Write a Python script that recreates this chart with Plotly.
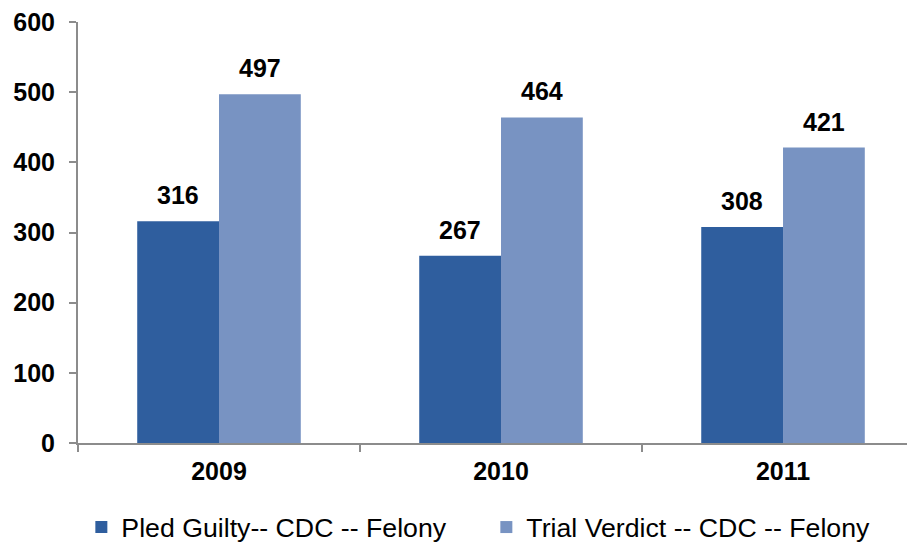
"""CDC felony dispositions by year."""
import plotly.graph_objects as go

years = ["2009", "2010", "2011"]
pled_guilty = [316, 267, 308]
trial_verdict = [497, 464, 421]
y_ticks = [0, 100, 200, 300, 400, 500, 600]

BOLD = dict(size=25, color='#000000', family='Liberation Sans', weight='bold')

fig = go.Figure()
fig.add_trace(go.Bar(x=years, y=pled_guilty, name="Pled Guilty-- CDC -- Felony",
    marker_color='#2F5E9E', marker_line_width=0))
fig.add_trace(go.Bar(x=years, y=trial_verdict, name="Trial Verdict -- CDC -- Felony",
    marker_color='#7893C2', marker_line_width=0))

# value labels sit above each bar, offset to the bar's half of the group
for vals, shift in [(pled_guilty, -41), (trial_verdict, 41)]:
    for i, v in enumerate(vals):
        fig.add_annotation(x=i, y=v, xref='x', yref='y', text=str(v), showarrow=False,
            xshift=shift, yanchor='bottom', yshift=10, font=BOLD)

# page body has an 8px margin, so the figure is sized to fit the window
fig.update_layout(
    width=907, height=536, paper_bgcolor='white', plot_bgcolor='white',
    font=dict(family='Liberation Sans', color='#000000'),
    barmode='group', bargap=0.42, bargroupgap=0,
    margin=dict(l=70, r=0, t=14, b=101, autoexpand=False),
    xaxis=dict(type='category', range=[-0.5, 2.468], showline=True, linecolor='#8C8C8C',
        linewidth=2, ticks='outside', tickson='boundaries', ticklen=7, tickcolor='#8C8C8C',
        tickwidth=2, tickfont=BOLD, showgrid=False, automargin=False, ticklabelstandoff=5),
    yaxis=dict(range=[0, 600], tickvals=y_ticks, showline=True, linecolor='#8C8C8C',
        linewidth=2, ticks='outside', ticklen=7, tickcolor='#8C8C8C', tickwidth=2,
        tickfont=BOLD, showgrid=False, zeroline=False, automargin=False,
        ticklabelstandoff=9, ticklabeloverflow='allow'),
    legend=dict(orientation='h', x=0.004, xanchor='left', y=-0.2, yanchor='middle',
        font=dict(size=26.7, family='Liberation Sans'), itemwidth=30, entrywidth=360,
        traceorder='normal'),
    showlegend=True,
)

fig.write_html("out.html")
